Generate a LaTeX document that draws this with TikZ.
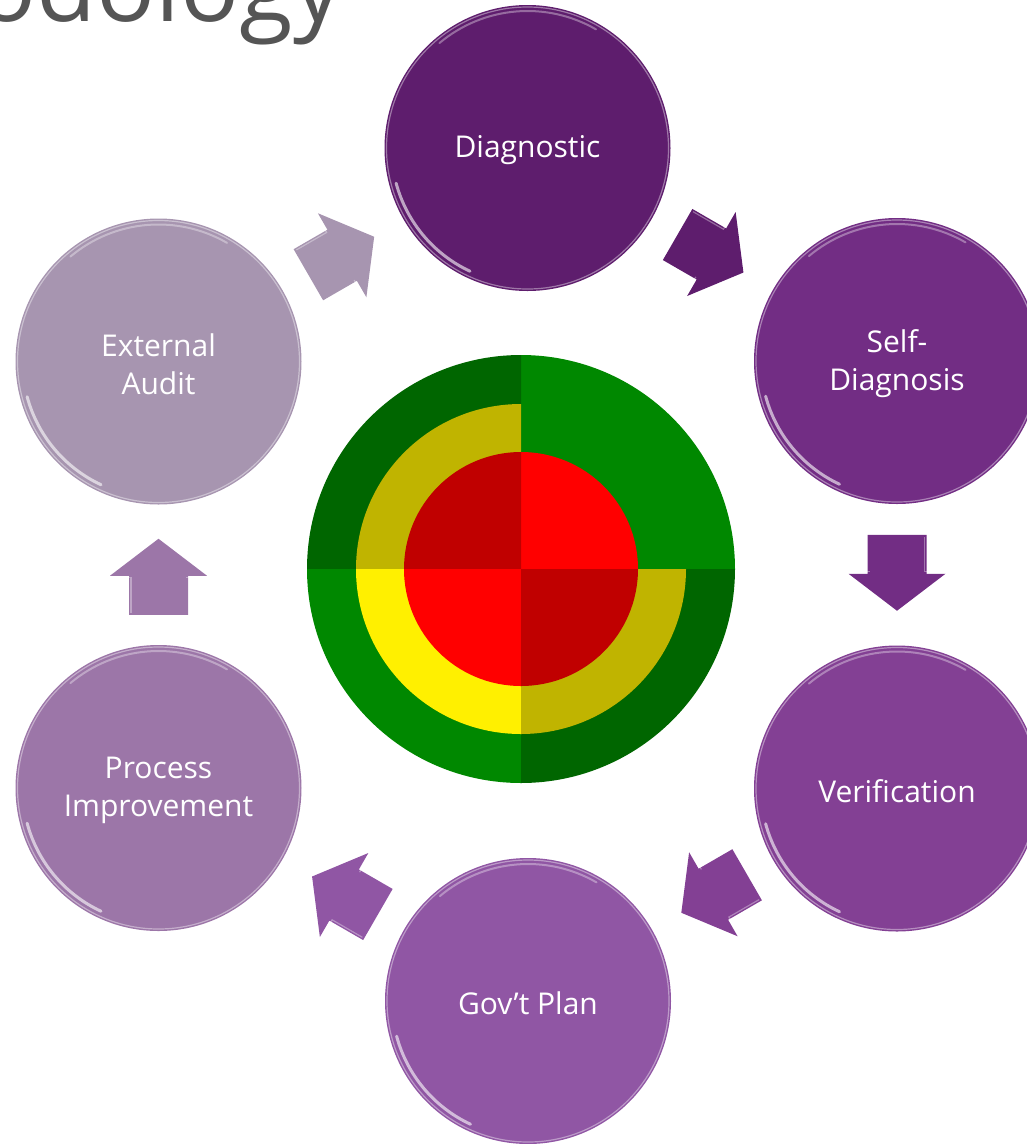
\documentclass[tikz,border=0pt]{standalone}
\usepackage{fontspec}
\setmainfont{Open Sans}
\usetikzlibrary{calc}
\definecolor{cDiag}{RGB}{94,29,109}
\definecolor{cSelf}{RGB}{114,45,132}
\definecolor{cVer}{RGB}{131,64,148}
\definecolor{cGov}{RGB}{144,86,164}
\definecolor{cProc}{RGB}{156,118,168}
\definecolor{cExt}{RGB}{167,149,176}
\definecolor{tDkGreen}{RGB}{0,102,0}
\definecolor{tGreen}{RGB}{0,136,0}
\definecolor{tOlive}{RGB}{192,180,0}
\definecolor{tYellow}{RGB}{255,240,0}
\definecolor{tRed}{RGB}{255,0,0}
\definecolor{tDkRed}{RGB}{192,0,0}
\definecolor{titlegray}{RGB}{85,85,85}
\tikzset{
  stage/.style={circle, fill=#1, minimum size=286pt, inner sep=0pt},
  stagetext/.style={text=white, font=\fontsize{30}{38}\selectfont, align=center, inner sep=0pt},
  pics/blockarrow/.style={code={
    \fill[#1] (-40,-29.5) -- (-1,-29.5) -- (-1,-48.5) -- (36,0) -- (-1,48.5) -- (-1,29.5) -- (-40,29.5) -- cycle;
    \draw[white, opacity=0.35, line width=1.2pt] (-38,27.5) -- (-3,27.5) -- (-3,44) (-3,-44) -- (-3,-27.5);
  }},
}
\newcommand\gloss[2]{%
  \draw[#2!60!white, line width=1.2pt] ($(#1.center)+(0:141pt)$) arc[start angle=0, end angle=360, radius=141pt];
  \draw[white, opacity=0.6, line width=3pt, line cap=round] ($(#1.center)+(195:136pt)$) arc[start angle=195, end angle=245, radius=136pt];
  \draw[white, opacity=0.35, line width=2pt, line cap=round] ($(#1.center)+(60:137pt)$) arc[start angle=60, end angle=130, radius=137pt];
}
\newcommand\sect[4]{\fill[#1] (T) -- ++(#2:#4) arc[start angle=#2, end angle=#3, radius=#4] -- cycle;}
\begin{document}
\begin{tikzpicture}[x=1pt, y=1pt]
\useasboundingbox (0,0) rectangle (1027,-1144);
\clip (0,0) rectangle (1027,-1144);

% title fragment
\node[anchor=base west, font=\fontsize{98}{98}\selectfont, text=titlegray, inner sep=0pt] (title) at (-23,-21) {odology};

% target
\coordinate (T) at (521,-569);
\sect{tGreen}{0}{90}{214}
\sect{tDkGreen}{90}{180}{214}
\sect{tGreen}{180}{270}{214}
\sect{tDkGreen}{270}{360}{214}
\sect{tOlive}{90}{180}{165}
\sect{tYellow}{180}{270}{165}
\sect{tOlive}{270}{360}{165}
\sect{tRed}{0}{90}{117}
\sect{tDkRed}{90}{180}{117}
\sect{tRed}{180}{270}{117}
\sect{tDkRed}{270}{360}{117}

% stages
\node[stage=cDiag] (diag) at (527.5,-148) {};
\node[stage=cSelf] (self) at (897,-361) {};
\node[stage=cVer]  (ver)  at (897,-788.5) {};
\node[stage=cGov]  (gov)  at (528,-1001) {};
\node[stage=cProc] (proc) at (158.5,-788) {};
\node[stage=cExt]  (ext)  at (158.5,-361.5) {};

\gloss{diag}{cDiag}
\gloss{self}{cSelf}
\gloss{ver}{cVer}
\gloss{gov}{cGov}
\gloss{proc}{cProc}
\gloss{ext}{cExt}

\node[stagetext] (diagL) at ([yshift=-2.5pt]diag.center) {Diagnostic};
\node[stagetext] (selfL) at ([yshift=-2.5pt]self.center) {Self-\\Diagnosis};
\node[stagetext] (verL)  at ([yshift=-2.5pt]ver.center) {Verification};
\node[stagetext] (govL)  at ([yshift=-2.5pt]gov.center) {Gov’t Plan};
\node[stagetext] (procL) at ([yshift=-2.5pt]proc.center) {Process\\Improvement};
\node[stagetext] (extL)  at ([yshift=-2.5pt]ext.center) {External\\Audit};

% arrows between stages
\pic[rotate=30]  at ($(ext)!0.5!(diag)$) {blockarrow=cExt};
\pic[rotate=-30] at ($(diag)!0.5!(self)$) {blockarrow=cDiag};
\pic[rotate=-90] at ($(self)!0.5!(ver)$) {blockarrow=cSelf};
\pic[rotate=210] at ($(ver)!0.5!(gov)$) {blockarrow=cVer};
\pic[rotate=150] at ($(gov)!0.5!(proc)$) {blockarrow=cGov};
\pic[rotate=90]  at ($(proc)!0.5!(ext)$) {blockarrow=cProc};
\end{tikzpicture}
\end{document}
